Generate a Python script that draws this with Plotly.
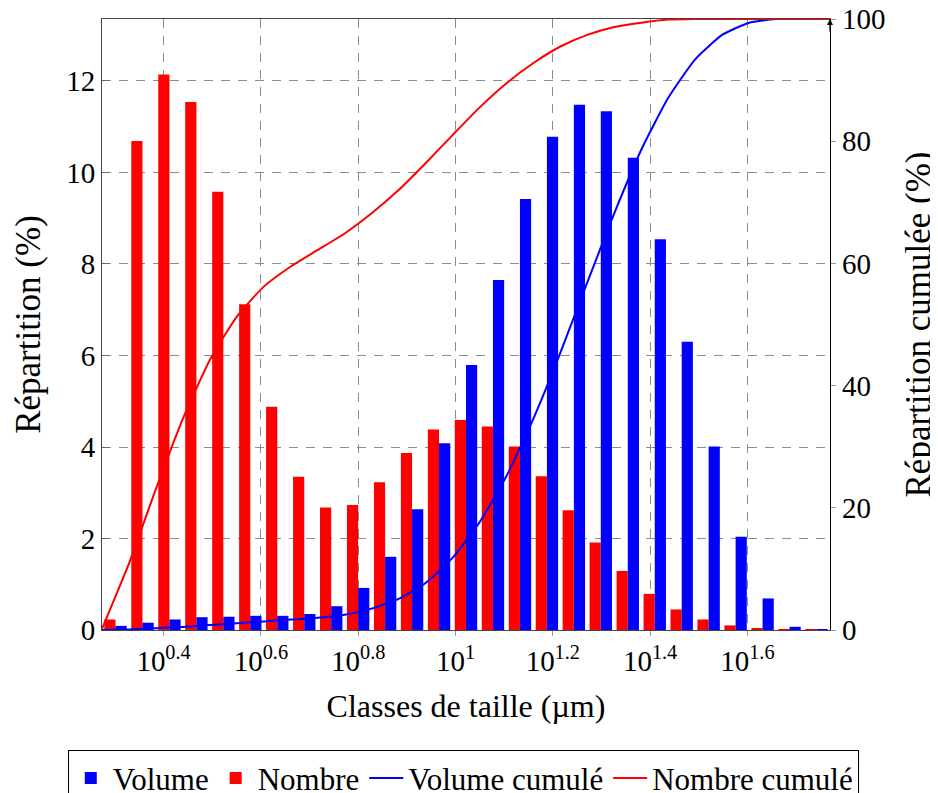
import numpy as np
import plotly.graph_objects as go

# Class boundaries (µm) of the size classes
SIZE_BOUNDS = [1.877, 2.133, 2.423, 2.753, 3.127, 3.553, 4.036, 4.586, 5.210, 5.919,
               6.724, 7.640, 8.679, 9.861, 11.20, 12.73, 14.46, 16.43, 18.66, 21.20,
               24.09, 27.37, 31.09, 35.32, 40.13, 45.59, 51.80, 58.85]

# Distribution per class (%)
VOLUME = [0.09, 0.16, 0.23, 0.28, 0.29, 0.31, 0.31, 0.35, 0.52, 0.92, 1.60, 2.64, 4.08,
          5.79, 7.65, 9.42, 10.78, 11.48, 11.34, 10.32, 8.54, 6.30, 4.01, 2.04, 0.69,
          0.07, 0.01]
NOMBRE = [0.23, 10.69, 12.14, 11.54, 9.58, 7.12, 4.88, 3.35, 2.68, 2.73, 3.23, 3.87, 4.38,
          4.59, 4.45, 4.01, 3.36, 2.62, 1.91, 1.29, 0.79, 0.45, 0.23, 0.10, 0.03,
          0.01, 0.01]

# Cumulative distributions (%) at the class boundaries
VOLUME_CUM = [0.0, 0.1, 0.3, 0.5, 0.8, 1.1, 1.4, 1.7, 2.0, 2.5, 3.5, 5.1, 7.7, 11.8, 17.6,
              25.2, 34.6, 45.4, 56.9, 68.2, 78.6, 87.1, 93.4, 97.4, 99.4, 100.0, 100.0, 100.0]
NOMBRE_CUM = [0.2, 10.9, 23.1, 34.6, 44.2, 51.3, 56.2, 59.5, 62.2, 64.9, 68.2, 72.0, 76.4,
              81.0, 85.5, 89.5, 92.8, 95.5, 97.4, 98.7, 99.4, 99.9, 100.0, 100.0, 100.0,
              100.0, 100.0, 100.0]

TICK_EXP = [0.4, 0.6, 0.8, 1.0, 1.2, 1.4, 1.6]
TICK_TEXT = ["10<sup>0.4</sup>", "10<sup>0.6</sup>", "10<sup>0.8</sup>", "10<sup>1</sup>",
             "10<sup>1.2</sup>", "10<sup>1.4</sup>", "10<sup>1.6</sup>"]

FONT = "Liberation Serif"
FS = 29

logb = np.log10(np.array(SIZE_BOUNDS))
centers = (logb[:-1] + logb[1:]) / 2.0
step = np.mean(np.diff(logb))
w = step * 0.415

fig = go.Figure()
fig.add_trace(go.Bar(x=centers, y=NOMBRE, name="Nombre", marker=dict(color="#ff0000", line=dict(width=0)),
                     width=w, offset=-w, legendrank=2))
fig.add_trace(go.Bar(x=centers, y=VOLUME, name="Volume", marker=dict(color="#0000ff", line=dict(width=0)),
                     width=w, offset=0, legendrank=1))
fig.add_trace(go.Scatter(x=logb, y=VOLUME_CUM, name="Volume cumulé", mode="lines", yaxis="y2",
                         line=dict(color="#0000ff", width=2, shape="spline", smoothing=0.5),
                         legendrank=3))
fig.add_trace(go.Scatter(x=logb, y=NOMBRE_CUM, name="Nombre cumulé", mode="lines", yaxis="y2",
                         line=dict(color="#ff0000", width=2, shape="spline", smoothing=0.5),
                         legendrank=4))

grid = dict(showgrid=True, gridcolor="#8c8c8c", gridwidth=1, griddash="9px,8px")

fig.update_layout(
    width=930, height=785,
    margin=dict(l=94, r=108, t=11, b=163, autoexpand=False),
    paper_bgcolor="white", plot_bgcolor="white",
    font=dict(family=FONT, size=FS, color="black"),
    barmode="overlay",
    showlegend=True,
    legend=dict(orientation="h", x=-0.047, xanchor="left", y=-0.197, yanchor="top",
                bordercolor="black", borderwidth=1, font=dict(size=31),
                itemwidth=34, tracegroupgap=0),
    xaxis=dict(range=[logb[0], logb[-1]], tickvals=TICK_EXP, ticktext=TICK_TEXT,
               showline=True, linecolor="#444", linewidth=1, mirror=True,
               ticks="outside", ticklen=5, tickcolor="#999", automargin=False,
               title=dict(text="Classes de taille (µm)", standoff=18, font=dict(size=32)),
               zeroline=False, **grid),
    yaxis=dict(range=[0, 13.355], dtick=2, tick0=0,
               showline=True, linecolor="#444", linewidth=1,
               ticks="inside", ticklen=7, tickcolor="#666", automargin=False,
               title=dict(text="Répartition (%)", standoff=14),
               zeroline=False, **grid),
    yaxis2=dict(range=[0, 100], dtick=20, tick0=0, overlaying="y", side="right",
                showline=True, linecolor="black", linewidth=1.3,
                ticks="outside", ticklen=5, tickcolor="#999", automargin=False,
                ticklabeloverflow="allow",
                showgrid=False, zeroline=False,
                title=dict(text="Répartition cumulée (%)", standoff=38)),
    annotations=[dict(x=1, y=1, xref="paper", yref="paper", text="", showarrow=True,
                      ax=0, ay=14, arrowhead=2, arrowsize=1, arrowwidth=1.2, arrowcolor="black")],
)

fig.write_html("out.html")
